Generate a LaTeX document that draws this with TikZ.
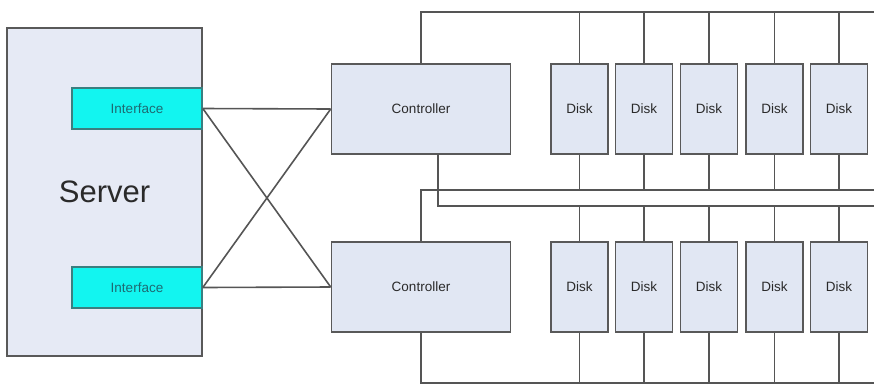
\documentclass[tikz,border=0pt]{standalone}
\usepackage{fontspec}
\setmainfont{Liberation Sans}
\begin{document}
\begin{tikzpicture}[x=1bp,y=-1bp,
  box/.style={draw=boxline, line width=1.6bp, fill=boxfill, inner sep=0pt, text=textcol,
    font=\fontsize{13.5bp}{16bp}\selectfont},
  serverbox/.style={box, fill=serverfill, minimum width=195bp, minimum height=328bp,
    font=\fontsize{31bp}{36bp}\selectfont},
  ifbox/.style={box, fill=ifcyan, draw=ifline, text=iftext, minimum width=130bp, minimum height=41bp},
  ctrlbox/.style={box, minimum width=179bp, minimum height=90bp},
  diskbox/.style={box, minimum width=57bp, minimum height=90bp},
  wire/.style={draw=wirecol, line width=1.6bp}]
\definecolor{boxline}{HTML}{595959}
\definecolor{boxfill}{HTML}{E1E7F3}
\definecolor{serverfill}{HTML}{E6EAF5}
\definecolor{ifcyan}{HTML}{12F5F0}
\definecolor{ifline}{HTML}{3A7F80}
\definecolor{iftext}{HTML}{1E6A72}
\definecolor{textcol}{HTML}{2A2A2A}
\definecolor{wirecol}{HTML}{555555}
\useasboundingbox (0,0) rectangle (874,385);

\node[serverbox] (srv) at (104.5,192) {Server};
\node[ifbox] (if1) at (137,108.5) {Interface};
\node[ifbox] (if2) at (137,287.5) {Interface};
\node[ctrlbox] (c1) at (421,109) {Controller};
\node[ctrlbox] (c2) at (421,287) {Controller};

\foreach \i/\x in {1/579.5,2/644,3/709,4/774.5,5/839}{
  \node[diskbox] (dt\i) at (\x,109) {Disk};
  \node[diskbox] (db\i) at (\x,287) {Disk};
}

% interface to controller links
\draw[wire] (if1.east) -- (c1.west);
\draw[wire] (if1.east) -- (c2.west);
\draw[wire] (if2.east) -- (c1.west);
\draw[wire] (if2.east) -- (c2.west);

% bus coordinates
\coordinate (busA) at (874,12);
\coordinate (busB) at (874,190);
\coordinate (busC) at (874,206);
\coordinate (busD) at (874,383);
\coordinate (c1down) at (438,154);

% top bus: controller 1 to top disks
\draw[wire] (c1.north) -- (c1.north |- busA) -- (busA);
% bus under top disks: controller 2 up
\draw[wire] (c2.north) -- (c2.north |- busB) -- (busB);
% bus above bottom disks: controller 1 down
\draw[wire] (c1down) -- (c1down |- busC) -- (busC);
% bottom bus: controller 2 down
\draw[wire] (c2.south) -- (c2.south |- busD) -- (busD);

\foreach \i in {1,...,5}{
  \draw[wire] (dt\i.north) -- (dt\i.north |- busA);
  \draw[wire] (dt\i.south) -- (dt\i.south |- busB);
  \draw[wire] (db\i.north) -- (db\i.north |- busC);
  \draw[wire] (db\i.south) -- (db\i.south |- busD);
}
\end{tikzpicture}
\end{document}
